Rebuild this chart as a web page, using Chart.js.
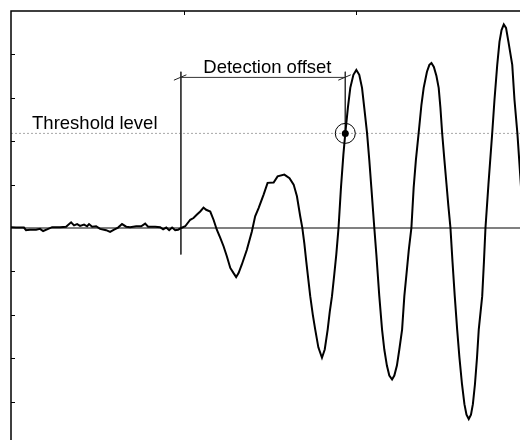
<!DOCTYPE html>
<html>
<head>
<meta charset="utf-8">
<script src="https://cdn.jsdelivr.net/npm/chart.js@4/dist/chart.umd.min.js"></script>
<style>
html,body{margin:0;padding:0;background:#fff;overflow:hidden;width:520px;height:440px;}
#c{display:block;}
</style>
</head>
<body>
<canvas id="c" width="529" height="445"></canvas>
<script>
// ---- data (sample index, amplitude) ----
const signalTime = [
  0, 2.9, 7.5, 8.7, 11.0, 14.5, 16.8, 18.6, 20.9, 23.8,
  28.4, 31.9, 34.8, 36.5, 38.3, 40.0, 42.3, 44.1, 45.2, 47.0,
  49.3, 51.6, 55.1, 57.4, 59.7, 62.0, 64.3, 66.7, 69.0, 72.5,
  75.4, 77.7, 79.4, 83.5, 86.4, 88.1, 89.9, 91.6, 93.3, 95.1,
  96.8, 98.6, 100.9, 103.8, 105.7, 107.7, 109.6, 111.5, 113.0, 115.4,
  117.3, 119.2, 121.2, 123.1, 125.0, 127.0, 128.9, 130.4, 131.8, 133.7,
  136.6, 139.5, 141.4, 143.4, 146.3, 148.6, 152.1, 154.4, 158.3, 161.3,
  163.7, 165.6, 167.5, 168.7, 169.9, 171.0, 172.2, 173.3, 174.8, 176.2,
  178.0, 180.1, 181.7, 183.4, 184.6, 185.9, 187.2, 188.4, 189.7, 191.1,
  192.5, 193.6, 195.1, 196.5, 198.3, 200.0, 201.7, 203.3, 204.6, 206.2,
  207.5, 208.7, 210.4, 211.6, 213.3, 214.9, 216.2, 217.7, 219.1, 220.7,
  222.0, 223.5, 224.9, 226.5, 227.8, 229.0, 230.4, 231.9, 233.2, 234.5,
  236.1, 237.7, 239.0, 240.9, 242.3, 243.5, 244.9, 246.4, 247.7, 248.7,
  249.7, 251.0, 252.2, 253.3, 254.5, 255.7, 257.0, 258.4, 259.7, 261.2,
  262.6, 263.8, 265.1, 266.4, 267.5, 268.7, 269.9, 270.9, 272.9, 273.9,
  274.8, 276.5, 278.7, 280.0, 281.6, 282.9, 284.1, 285.4, 286.7, 288.1,
  290.3, 291.6, 293.3, 295.1, 296.8
];
const signalAmp = [
  0.02, 0.01, 0.01, -0.05, -0.04, -0.04, -0.02, -0.07, -0.03, 0.02,
  0.02, 0.03, 0.13, 0.06, 0.09, 0.05, 0.08, 0.04, 0.09, 0.03,
  0.04, -0.02, -0.05, -0.09, -0.04, 0.01, 0.09, 0.03, 0.02, 0.04,
  0.04, 0.10, 0.03, 0.03, 0.02, -0.03, 0.01, -0.05, 0.01, -0.05,
  -0.04, 0.00, 0.04, 0.19, 0.23, 0.31, 0.38, 0.47, 0.42, 0.38,
  0.19, -0.04, -0.23, -0.42, -0.65, -0.92, -1.04, -1.13, -1.04, -0.84,
  -0.50, -0.08, 0.27, 0.46, 0.77, 1.04, 1.05, 1.19, 1.23, 1.15,
  1.00, 0.73, 0.27, 0.01, -0.36, -0.77, -1.19, -1.57, -2.00, -2.34,
  -2.75, -2.99, -2.80, -2.34, -1.93, -1.57, -1.08, -0.61, 0.01, 0.93,
  1.69, 2.18, 2.77, 3.23, 3.53, 3.64, 3.53, 3.23, 2.77, 2.19,
  1.57, 0.93, 0.01, -0.61, -1.57, -2.34, -2.80, -3.17, -3.40, -3.49,
  -3.40, -3.17, -2.80, -2.34, -1.57, -1.08, -0.50, 0.01, 0.93, 1.57,
  2.19, 2.84, 3.23, 3.60, 3.76, 3.80, 3.71, 3.50, 3.23, 2.77,
  2.19, 1.57, 1.02, 0.51, 0.01, -0.78, -1.57, -2.34, -2.98, -3.60,
  -4.06, -4.30, -4.40, -4.30, -4.06, -3.60, -2.98, -2.34, -1.57, -0.78,
  0.01, 1.00, 2.19, 2.95, 3.76, 4.29, 4.56, 4.69, 4.61, 4.29,
  3.76, 2.95, 2.17, 1.11, 0.08
];
const xTickValues = [100, 200];
const yTickValues = [-4, -3, -2, -1, 1, 2, 3, 4];
const xRange = [0, 300];
const yRange = [-5, 5];
const thresholdLevel = 2.18;
const onsetTime = 98.4;
const detectTime = 193.6;
const bracketLevel = 3.47;
const bracketTop = 3.60;
const onsetLineBottom = -0.61;
const thresholdLabel = 'Threshold level';
const offsetLabel = 'Detection offset';
const thresholdLabelTime = 12.2;
const offsetLabelTime = 148.5;

// ---- chart ----
const signalPoints = signalTime.map((t, i) => ({x: t, y: signalAmp[i]}));
const FONT = '18.5px "Liberation Sans", Arial, sans-serif';

const framePlugin = {
  id: 'frame',
  afterDraw(chart) {
    const {ctx, chartArea: a, scales: {x, y}} = chart;
    ctx.save();
    ctx.strokeStyle = '#000';
    ctx.lineWidth = 1.5;
    ctx.strokeRect(a.left, a.top, a.right - a.left, a.bottom - a.top);
    ctx.lineWidth = 1;
    ctx.beginPath();
    yTickValues.forEach(v => {
      const py = Math.round(y.getPixelForValue(v)) + 0.5;
      ctx.moveTo(a.left, py); ctx.lineTo(a.left + 4, py);
      ctx.moveTo(a.right, py); ctx.lineTo(a.right - 4, py);
    });
    xTickValues.forEach(v => {
      const px = Math.round(x.getPixelForValue(v)) + 0.5;
      ctx.moveTo(px, a.top); ctx.lineTo(px, a.top + 4);
      ctx.moveTo(px, a.bottom); ctx.lineTo(px, a.bottom - 4);
    });
    ctx.stroke();
    ctx.strokeStyle = '#222';
    ctx.lineWidth = 1;
    ctx.beginPath();
    [onsetTime, detectTime].forEach(t => {
      const px = x.getPixelForValue(t), py = y.getPixelForValue(bracketLevel);
      ctx.moveTo(px - 7, py + 2.8); ctx.lineTo(px + 5.5, py - 2.6);
    });
    ctx.stroke();
    ctx.fillStyle = '#000';
    ctx.font = FONT;
    ctx.textBaseline = 'alphabetic';
    ctx.textAlign = 'left';
    ctx.fillText(thresholdLabel, x.getPixelForValue(thresholdLabelTime), y.getPixelForValue(thresholdLevel) - 4);
    ctx.textAlign = 'center';
    ctx.fillText(offsetLabel, x.getPixelForValue(offsetLabelTime), y.getPixelForValue(bracketLevel) - 4.5);
    ctx.restore();
  }
};

new Chart(document.getElementById('c'), {
  type: 'scatter',
  data: {
    datasets: [
      {
        data: [{x: xRange[0], y: 0}, {x: xRange[1], y: 0}],
        showLine: true, borderColor: '#808080', borderWidth: 2, pointRadius: 0, order: 6
      },
      {
        data: [{x: xRange[0], y: thresholdLevel}, {x: xRange[1], y: thresholdLevel}],
        showLine: true, borderColor: '#a8a8a8', borderWidth: 1, borderDash: [2, 2], pointRadius: 0, order: 5
      },
      {
        data: [{x: onsetTime, y: bracketTop}, {x: onsetTime, y: onsetLineBottom}],
        showLine: true, borderColor: '#333', borderWidth: 1, pointRadius: 0, order: 4
      },
      {
        data: [{x: onsetTime, y: bracketLevel}, {x: detectTime, y: bracketLevel}],
        showLine: true, borderColor: '#333', borderWidth: 1, pointRadius: 0, order: 4
      },
      {
        data: [{x: detectTime, y: bracketTop}, {x: detectTime, y: thresholdLevel}],
        showLine: true, borderColor: '#333', borderWidth: 1, pointRadius: 0, order: 4
      },
      {
        data: signalPoints,
        showLine: true, borderColor: '#000', borderWidth: 2, pointRadius: 0, tension: 0, order: 3
      },
      {
        data: [{x: detectTime, y: thresholdLevel}],
        pointRadius: 10, pointBackgroundColor: 'rgba(0,0,0,0)', pointBorderColor: '#000', pointBorderWidth: 1, order: 1
      },
      {
        data: [{x: detectTime, y: thresholdLevel}],
        pointRadius: 3.5, pointBackgroundColor: '#000', pointBorderColor: '#000', pointBorderWidth: 0, order: 0
      }
    ]
  },
  options: {
    responsive: false,
    animation: false,
    devicePixelRatio: 1,
    layout: {autoPadding: false, padding: {left: 11, top: 11, right: 0, bottom: 0}},
    scales: {
      x: {type: 'linear', min: xRange[0], max: xRange[1], display: false},
      y: {type: 'linear', min: yRange[0], max: yRange[1], display: false}
    },
    plugins: {legend: {display: false}, tooltip: {enabled: false}}
  },
  plugins: [framePlugin]
});
</script>
</body>
</html>
